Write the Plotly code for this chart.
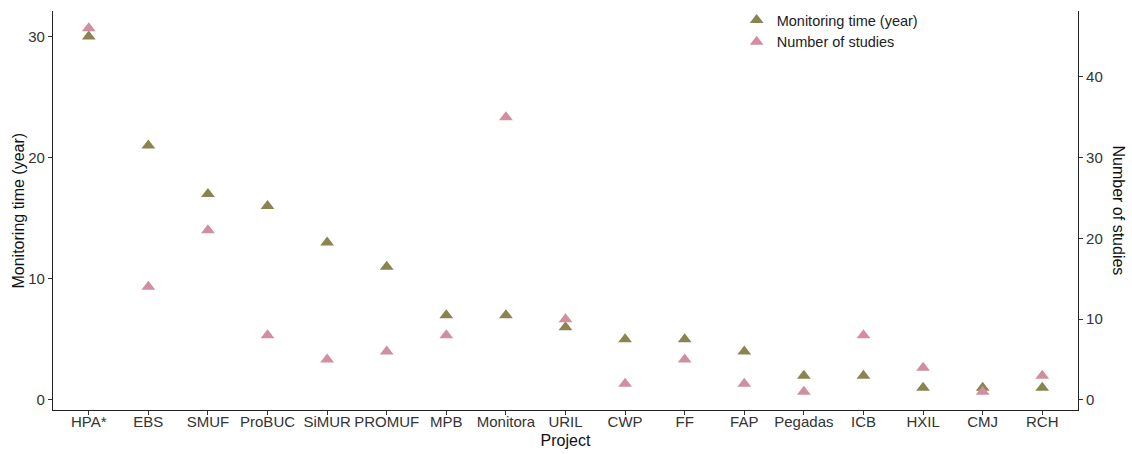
import plotly.graph_objects as go

projects = ["HPA*", "EBS", "SMUF", "ProBUC", "SiMUR", "PROMUF", "MPB", "Monitora",
            "URIL", "CWP", "FF", "FAP", "Pegadas", "ICB", "HXIL", "CMJ", "RCH"]
monitoring_years = [30, 21, 17, 16, 13, 11, 7, 7, 6, 5, 5, 4, 2, 2, 1, 1, 1]
n_studies = [46, 14, 21, 8, 5, 6, 8, 35, 10, 2, 5, 2, 1, 8, 4, 1, 3]

olive = "#8A8450"
pink = "#D08E9E"

fig = go.Figure()
fig.add_trace(go.Scatter(
    x=projects, y=monitoring_years, mode="markers", name="Monitoring time (year)",
    marker=dict(symbol="triangle-up", size=12, color=olive), yaxis="y"))
fig.add_trace(go.Scatter(
    x=projects, y=n_studies, mode="markers", name="Number of studies",
    marker=dict(symbol="triangle-up", size=12, color=pink), yaxis="y2"))

axis_font = dict(family="Liberation Sans, Arial, sans-serif", size=15, color="#333333")
title_font = dict(family="Liberation Sans, Arial, sans-serif", size=16, color="#111111")

fig.update_layout(
    width=1132, height=454,
    margin=dict(l=53, r=54, t=11, b=44, autoexpand=False),
    paper_bgcolor="white", plot_bgcolor="white",
    showlegend=True,
    legend=dict(x=0.667, y=1.0175, xanchor="left", yanchor="top",
                font=dict(family="Liberation Sans, Arial, sans-serif", size=14.5, color="#222222"),
                bgcolor="rgba(0,0,0,0)", itemsizing="constant", tracegroupgap=0),
    xaxis=dict(
        type="category", range=[-0.6, 16.6], showgrid=False, zeroline=False,
        showline=True, linecolor="#222222", linewidth=1.2,
        ticks="outside", ticklen=4, tickcolor="#333333", ticklabelstandoff=-6,
        tickfont=axis_font, automargin=False,
        title=dict(text="Project", font=title_font, standoff=5)),
    yaxis=dict(
        range=[-0.83, 32.1], tickvals=[0, 10, 20, 30], showgrid=False, zeroline=False,
        showline=True, linecolor="#222222", linewidth=1.2,
        ticks="outside", ticklen=4, tickcolor="#333333",
        tickfont=axis_font, automargin=False),
    yaxis2=dict(
        overlaying="y", side="right",
        range=[-1.245, 48.15], tickvals=[0, 10, 20, 30, 40], showgrid=False, zeroline=False,
        showline=True, linecolor="#222222", linewidth=1.2,
        ticks="outside", ticklen=4, tickcolor="#333333",
        tickfont=axis_font, automargin=False),
    annotations=[
        dict(text="Monitoring time (year)", textangle=-90, xref="paper", yref="paper",
             x=0.0, y=0.5, xanchor="center", yanchor="middle", xshift=-35,
             showarrow=False, font=title_font),
        dict(text="Number of studies", textangle=90, xref="paper", yref="paper",
             x=1.0, y=0.5, xanchor="center", yanchor="middle", xshift=40,
             showarrow=False, font=title_font)],
)

fig.write_html("out.html", config={"displayModeBar": False},
               post_script="document.body.style.margin='0';document.body.style.overflow='hidden';")
